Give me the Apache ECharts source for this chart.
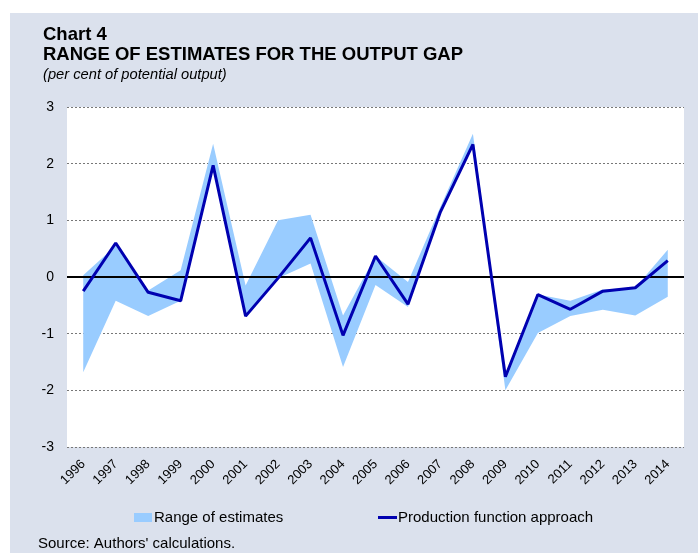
<!DOCTYPE html>
<html>
  <head>
    <meta charset="utf-8" />
    <title>Range of estimates for the output gap</title>
    <script src="https://cdn.jsdelivr.net/npm/echarts@6/dist/echarts.min.js"></script>
    <style>
      body {
        margin: 0;
        padding: 0;
        background: #ffffff;
      }
      #main {
        width: 698px;
        height: 553px;
      }
    </style>
  </head>
  <body>
    <div id="main"></div>
    <script type="text/javascript">
      var years = [
        "1996", "1997", "1998", "1999", "2000", "2001", "2002", "2003", "2004", "2005",
        "2006", "2007", "2008", "2009", "2010", "2011", "2012", "2013", "2014"
      ];
      // production function approach
      var production = [
        -0.25, 0.6, -0.27, -0.42, 1.97, -0.69, -0.02, 0.69, -1.03, 0.37,
        -0.48, 1.15, 2.34, -1.76, -0.31, -0.57, -0.25, -0.19, 0.29
      ];
      // range of estimates: lowest and highest
      var rangeLow = [
        -1.68, -0.42, -0.69, -0.42, 1.97, -0.69, -0.02, 0.24, -1.59, -0.14,
        -0.53, 1.15, 2.34, -2.0, -0.99, -0.69, -0.58, -0.68, -0.35
      ];
      var rangeHigh = [
        0.03, 0.55, -0.24, 0.12, 2.35, -0.15, 1.0, 1.1, -0.68, 0.37,
        -0.09, 1.24, 2.53, -1.76, -0.31, -0.42, -0.22, -0.19, 0.48
      ];
      var yTicks = [-3, -2, -1, 0, 1, 2, 3];

      var font = "Liberation Sans, Arial, sans-serif";
      var myChart = echarts.init(document.getElementById("main"));

      var option = {
        animation: false,
        textStyle: { fontFamily: font },
        graphic: [
          {
            type: "rect",
            z: -10,
            shape: { x: 10, y: 13, width: 688, height: 540 },
            style: { fill: "#dbe1ed" },
          },
        ],
        title: [
          {
            text: "Chart 4",
            left: 38,
            top: 20,
            textStyle: { fontSize: 18.5, fontWeight: "bold", color: "#000", fontFamily: font },
          },
          {
            text: "RANGE OF ESTIMATES FOR THE OUTPUT GAP",
            left: 38,
            top: 40,
            textStyle: { fontSize: 18.5, fontWeight: "bold", color: "#000", fontFamily: font },
          },
          {
            text: "(per cent of potential output)",
            left: 38,
            top: 62,
            textStyle: { fontSize: 14.7, fontWeight: "normal", fontStyle: "italic", color: "#000", fontFamily: font },
          },
          {
            text: "Source: Authors' calculations.",
            left: 33,
            top: 531,
            textStyle: { fontSize: 15, fontWeight: "normal", color: "#000", fontFamily: font },
          },
        ],
        legend: [
          {
            left: 129,
            top: 505,
            icon: "rect",
            itemWidth: 18,
            itemHeight: 9,
            itemGap: 2,
            data: ["Range of estimates"],
            textStyle: { fontSize: 15, color: "#000", fontFamily: font, padding: [0, 0, 0, -3] },
          },
          {
            left: 373,
            top: 505,
            icon: "rect",
            itemWidth: 19,
            itemHeight: 3,
            data: ["Production function approach"],
            textStyle: { fontSize: 15, color: "#000", fontFamily: font, padding: [0, 0, 0, -4] },
          },
        ],
        grid: {
          left: 67,
          right: 14,
          top: 107,
          bottom: 106,
          show: true,
          backgroundColor: "#ffffff",
          borderWidth: 0,
        },
        xAxis: {
          type: "category",
          data: years,
          boundaryGap: true,
          axisLine: { show: false },
          axisTick: { show: false },
          axisLabel: {
            rotate: 45,
            interval: 0,
            margin: 15,
            fontSize: 13,
            color: "#000",
            fontFamily: font,
          },
        },
        yAxis: {
          type: "value",
          min: yTicks[0],
          max: yTicks[yTicks.length - 1],
          interval: 1,
          axisLine: { show: false },
          axisTick: { show: false },
          axisLabel: { margin: 13, fontSize: 14, color: "#000", fontFamily: font },
          splitLine: {
            show: true,
            lineStyle: { color: "#777", width: 1, type: [2, 2] },
          },
        },
        series: [
          {
            name: "low",
            type: "line",
            data: rangeLow,
            stack: "range",
            stackStrategy: "all",
            symbol: "none",
            silent: true,
            lineStyle: { width: 0, opacity: 0 },
            itemStyle: { color: "#99ccff" },
            z: 1,
          },
          {
            name: "Range of estimates",
            type: "line",
            data: rangeHigh.map(function (v, i) {
              return +(v - rangeLow[i]).toFixed(2);
            }),
            stack: "range",
            stackStrategy: "all",
            symbol: "none",
            lineStyle: { width: 0, opacity: 0 },
            itemStyle: { color: "#99ccff" },
            areaStyle: { color: "#99ccff", opacity: 1 },
            z: 1,
          },
          {
            name: "Production function approach",
            type: "line",
            data: production,
            symbol: "none",
            lineStyle: { width: 3, color: "#0000b0" },
            itemStyle: { color: "#0000b0" },
            z: 3,
            markLine: {
              silent: true,
              symbol: "none",
              label: { show: false },
              lineStyle: { color: "#000", width: 2, type: "solid" },
              data: [{ yAxis: 0 }],
              z: 2,
            },
          },
        ],
      };

      myChart.setOption(option);
    </script>
  </body>
</html>
